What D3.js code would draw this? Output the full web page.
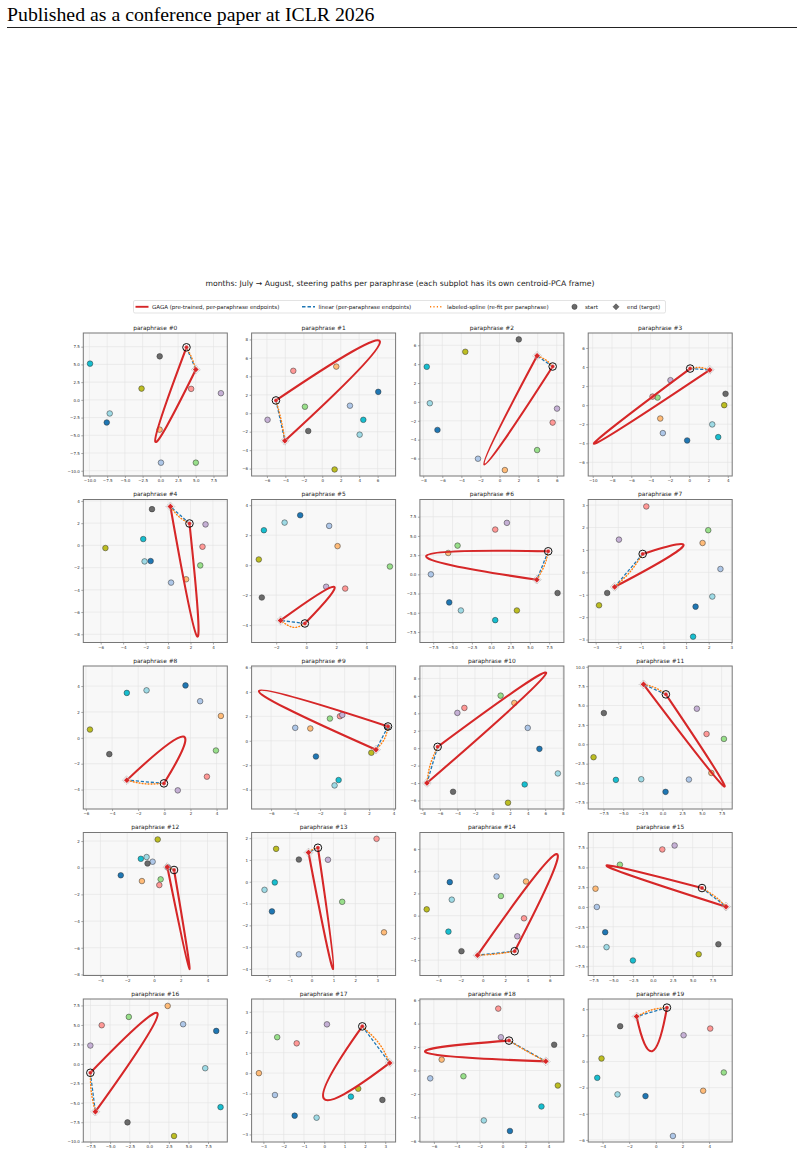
<!DOCTYPE html>
<html>
<head>
<meta charset="utf-8">
<script src="https://cdn.jsdelivr.net/npm/d3@7"></script>
<style>
  body { margin: 0; background: #fff; }
  svg { display: block; }
</style>
</head>
<body>
<div id="chart"></div>
<script>
// other months (one coloured dot each per subplot)
const months = ["January", "February", "March", "April", "May", "June",
                "September", "October", "November", "December"];
const monthColors = ["#1f77b4", "#aec7e8", "#ffbb78", "#98df8a", "#ff9896",
                     "#c5b0d5", "#6b6b6b", "#bcbd22", "#17becf", "#9edae5"];

const titles = d3.range(20).map(i => `paraphrase #${i}`);

// axis limits per subplot
const xDomains = [
  [-10.87, 9.45], [-7.66, 7.95], [-8.35, 6.75], [-10.47, 4.46],
  [-7.55, 5.28], [-3.64, 5.96], [-9.22, 9.4], [-3.33, 3.04],
  [-6.2, 4.82], [-7.59, 4.16], [-8.28, 8.13], [-9.45, 8.85],
  [-5.28, 5.48], [-2.74, 3.84], [-5.65, 7.27], [-8.15, 9.98],
  [-8.42, 9.96], [-3.58, 3.51], [-7.22, 5.35], [-5.08, 5.73]
];
const yDomains = [
  [-10.74, 9.43], [-6.8, 8.7], [-7.85, 7.3], [-7.43, 7.57],
  [-8.74, 4.13], [-5.16, 4.38], [-8.87, 9.74], [-3.13, 3.25],
  [-5.5, 5.55], [-5.58, 6.12], [-6.98, 9.43], [-8.35, 10.1],
  [-8.08, 2.64], [-4.3, 2.26], [-5.39, 7.49], [-8.66, 9.41],
  [-10.04, 8.33], [-3.37, 3.63], [-6.1, 6.1], [-6.16, 4.78]
];
const tickSteps = [2.5, 2, 2, 2, 2, 2, 2.5, 1, 2, 2,
                   2, 2.5, 2, 1, 2, 2.5, 2.5, 1, 2, 2];

// month positions, same order as months[]
const monthPoints = [
  [[-7.56,-3.19],[0.09,-8.86],[-0.1,-4.2],[5.01,-8.86],[4.35,1.55],[8.55,0.94],[-0.09,6.14],[-2.65,1.59],[-9.92,5.11],[-7.14,-1.92]],
  [[6.07,2.32],[3.0,0.82],[1.52,5.06],[-1.88,0.71],[-3.14,4.6],[-5.93,-0.71],[-1.52,-1.92],[1.34,-6.09],[4.45,-0.71],[4.05,-2.32]],
  [[-6.51,-2.97],[-2.26,-6.02],[0.56,-7.22],[3.94,-5.1],[5.57,-2.19],[6.03,-0.71],[2.02,6.62],[-3.59,5.31],[-7.63,3.72],[-7.31,-0.14]],
  [[-0.21,-3.7],[-2.73,-2.93],[-3.0,-1.4],[-3.28,0.8],[-3.8,0.9],[-1.94,2.62],[3.77,1.19],[3.63,0],[3.01,-3.35],[2.39,-2.02]],
  [[-1.55,-1.41],[0.27,-3.35],[1.61,-3.05],[2.87,-1.8],[3.07,-0.12],[3.34,1.89],[-1.43,3.26],[-5.58,-0.24],[-2.21,0.57],[-2.09,-1.44]],
  [[-0.4,3.33],[1.53,2.62],[2.09,1.27],[5.58,-0.09],[2.6,-1.56],[1.33,-1.44],[-2.96,-2.16],[-3.16,0.38],[-2.82,2.33],[-1.44,2.84]],
  [[-5.43,-3.65],[-7.8,0],[-5.56,2.78],[-4.35,3.74],[0.52,5.83],[2.03,6.7],[8.58,-2.43],[3.32,-4.7],[0.52,-5.96],[-3.92,-4.7]],
  [[1.42,-1.53],[2.52,0.15],[1.73,1.31],[1.98,1.88],[-0.76,2.94],[-1.97,1.46],[-2.49,-0.92],[-2.85,-1.47],[1.31,-2.87],[2.16,-1.08]],
  [[1.62,4.05],[2.74,2.83],[4.33,1.69],[3.95,-0.98],[3.26,-3.0],[1.03,-4.06],[-4.21,-1.26],[-5.69,0.64],[-2.87,3.47],[-1.36,3.67]],
  [[-2.34,-1.28],[-4.03,1.06],[-2.8,1.01],[-1.2,1.82],[-0.38,2.01],[-0.19,2.12],[3.5,1.1],[2.18,-0.98],[-0.49,-3.21],[-0.82,-3.65]],
  [[5.34,-0.08],[4.01,2.33],[2.48,5.19],[0.92,6.03],[-3.21,4.62],[-4.01,4.05],[-4.5,-5.0],[1.76,-6.26],[3.66,-4.16],[7.44,-2.9]],
  [[0.38,-6.14],[3.35,-4.55],[6.2,-3.7],[7.8,0.69],[5.59,1.33],[4.36,4.59],[-7.46,4.03],[-8.77,-1.67],[-5.93,-4.59],[-2.71,-4.51]],
  [[-2.48,-0.57],[-0.1,0.45],[-0.9,-1.0],[0.5,-0.87],[0.4,-1.3],[1.05,0.02],[-0.48,0.32],[0.28,2.12],[-0.98,0.67],[-0.55,0.8]],
  [[-1.81,-1.36],[-0.58,-3.33],[3.31,-2.32],[1.4,-0.92],[2.97,1.97],[0.75,1.01],[-0.58,1.02],[-1.62,1.51],[-1.68,-0.03],[-2.15,-0.37]],
  [[-2.97,3.02],[1.23,3.53],[3.87,3.08],[1.62,1.77],[3.69,-0.24],[3.09,-1.86],[-1.92,-3.2],[-5.04,0.57],[-3.09,-1.44],[-2.79,1.44]],
  [[-6.01,-3.19],[-7.06,0],[-7.23,2.31],[-4.16,5.34],[1.18,7.27],[2.73,7.77],[8.24,-4.71],[5.76,-5.97],[-2.52,-6.76],[-5.84,-5.08]],
  [[8.55,4.23],[4.32,5.09],[2.35,7.44],[-2.61,6.03],[-6.07,4.96],[-7.52,2.35],[-2.78,-7.52],[3.16,-9.27],[9.1,-5.56],[7.14,-0.56]],
  [[-1.46,-2.08],[-2.43,-1.07],[-3.22,0],[-2.32,1.76],[-1.36,1.46],[0.13,2.39],[2.86,-1.31],[1.67,-0.76],[1.31,-1.15],[-0.38,-2.18]],
  [[0.64,-5.16],[-6.32,-0.67],[-5.32,0.93],[-3.42,-0.49],[-0.38,5.28],[-0.15,2.84],[4.5,2.2],[4.82,-1.28],[3.39,-3.07],[-1.64,-4.26]],
  [[-0.78,-2.65],[1.28,-5.7],[3.55,-2.24],[5.1,-0.84],[4.08,2.52],[2.08,2.01],[-2.68,2.7],[-4.08,0.23],[-4.4,-1.25],[-2.88,-2.52]]
];

// July (start) and August (end) per paraphrase
const starts = [[3.69,7.41],[-5.02,1.39],[5.57,3.75],[0.1,3.84],[1.91,1.97],[-0.09,-3.89],[7.37,3.0],[-0.92,0.82],[-0.03,-3.52],[3.54,1.17],
                [-6.26,0.15],[0.42,6.44],[1.5,-0.17],[0.29,1.56],[2.85,-3.2],[6.18,2.39],[-7.52,-1.15],[1.87,2.29],[0.56,2.55],[0.83,4.12]];
const ends = [[5.01,4.27],[-4.05,-2.99],[3.94,4.88],[2.14,3.7],[0.21,3.5],[-1.71,-3.69],[5.9,-0.7],[-2.16,-0.65],[-2.87,-3.27],[2.56,-0.73],
              [-7.48,-4.0],[-2.42,7.73],[1.0,0.05],[-0.14,1.34],[-0.48,-3.56],[9.2,0.04],[-6.88,-6.15],[3.22,0.5],[3.77,0.78],[-1.45,3.44]];
// far point of the GAGA loop (curve midpoint)
const gagaTips = [[-0.71,-5.9],[6.25,7.77],[-1.6,-6.62],[-9.85,-4.05],[2.6,-8.2],[1.84,-1.44],[-8.4,2.39],[0.85,1.14],[1.44,0.1],[-6.99,4.08],
                  [6.1,8.59],[7.84,-5.45],[2.65,-7.6],[0.99,-4.0],[6.6,5.54],[-5.8,5.17],[1.07,6.41],[-0.02,-1.25],[-6.7,1.54],[-0.28,0.79]];
// middle point of the labeled spline
const splineMids = [[4.45,5.9],[-4.45,-0.75],[4.85,4.45],[1.1,3.95],[0.95,2.6],[-0.85,-4.15],[6.9,1.2],[-1.48,0.02],[-1.5,-3.55],[3.25,0.15],
                    [-7.1,-1.88],[-0.95,7.3],[1.25,-0.05],[0.08,1.5],[1.2,-3.45],[7.85,1.3],[-7.4,-3.62],[2.7,1.45],[2.2,1.6],[-0.3,3.95]];

const RED = "#d62728", BLUE = "#1f77b4", ORANGE = "#ff7f0e";
const FONT = "DejaVu Sans, sans-serif";

const svg = d3.select("#chart").append("svg")
  .attr("width", 804).attr("height", 1158);

// page header
svg.append("text")
  .attr("x", 7).attr("y", 21)
  .attr("font-family", "Liberation Serif, Times New Roman, serif")
  .attr("font-size", 19.8)
  .text("Published as a conference paper at ICLR 2026");
svg.append("line")
  .attr("x1", 7).attr("x2", 797).attr("y1", 27.5).attr("y2", 27.5)
  .attr("stroke", "#222").attr("stroke-width", 1);

// figure title
svg.append("text")
  .attr("x", 400).attr("y", 285.5)
  .attr("text-anchor", "middle")
  .attr("font-family", FONT).attr("font-size", 7.7)
  .attr("fill", "#222")
  .text("months: July \u2192 August, steering paths per paraphrase (each subplot has its own centroid-PCA frame)");

// legend
const leg = svg.append("g").attr("font-family", FONT).attr("font-size", 5.5).attr("fill", "#222");
leg.append("rect")
  .attr("x", 133.5).attr("y", 300.5).attr("width", 532).attr("height", 12.5)
  .attr("rx", 1.5).attr("fill", "#fff").attr("stroke", "#d0d0d0").attr("stroke-width", 0.6);
const ly = 306.8;
leg.append("line").attr("x1", 135.5).attr("x2", 148.5).attr("y1", ly).attr("y2", ly)
  .attr("stroke", RED).attr("stroke-width", 1.9);
leg.append("text").attr("x", 152).attr("y", ly + 2).text("GAGA (pre-trained, per-paraphrase endpoints)");
leg.append("line").attr("x1", 302).attr("x2", 315).attr("y1", ly).attr("y2", ly)
  .attr("stroke", BLUE).attr("stroke-width", 1.4).attr("stroke-dasharray", "3.5,2");
leg.append("text").attr("x", 318.5).attr("y", ly + 2).text("linear (per-paraphrase endpoints)");
leg.append("line").attr("x1", 430).attr("x2", 442).attr("y1", ly).attr("y2", ly)
  .attr("stroke", ORANGE).attr("stroke-width", 1.4).attr("stroke-dasharray", "1.2,2.2");
leg.append("text").attr("x", 447).attr("y", ly + 2).text("labeled-spline (re-fit per paraphrase)");
leg.append("circle").attr("cx", 574.5).attr("cy", ly).attr("r", 2.6)
  .attr("fill", "#6b6b6b").attr("stroke", "#333").attr("stroke-width", 0.5);
leg.append("text").attr("x", 585).attr("y", ly + 2).text("start");
leg.append("path").attr("transform", `translate(616,${ly})`)
  .attr("d", "M0,-3L3,0L0,3L-3,0Z")
  .attr("fill", "#6b6b6b").attr("stroke", "#333").attr("stroke-width", 0.5);
leg.append("text").attr("x", 627).attr("y", ly + 2).text("end (target)");

// subplots
const W = 144, H = 143;
const colX = c => 83.3 + c * 168.3;
const rowY = r => 333 + r * 166.5;

titles.forEach((title, i) => {
  const g = svg.append("g")
    .attr("transform", `translate(${colX(i % 4)},${rowY(Math.floor(i / 4))})`);
  const x = d3.scaleLinear().domain(xDomains[i]).range([0, W]);
  const y = d3.scaleLinear().domain(yDomains[i]).range([H, 0]);
  const step = tickSteps[i];
  const ticksFor = dom => d3.range(Math.ceil(dom[0] / step - 1e-9) * step, dom[1] + 1e-9, step);
  const fmt = step % 1 === 0 ? d3.format("d") : d3.format(".1f");

  g.append("rect").attr("width", W).attr("height", H).attr("fill", "#f8f8f8");

  // grid
  g.append("g").selectAll("line").data(ticksFor(xDomains[i])).join("line")
    .attr("x1", d => x(d)).attr("x2", d => x(d)).attr("y1", 0).attr("y2", H)
    .attr("stroke", "#e2e2e2").attr("stroke-width", 0.6);
  g.append("g").selectAll("line").data(ticksFor(yDomains[i])).join("line")
    .attr("y1", d => y(d)).attr("y2", d => y(d)).attr("x1", 0).attr("x2", W)
    .attr("stroke", "#e2e2e2").attr("stroke-width", 0.6);

  // axes
  const xAxis = g.append("g").attr("transform", `translate(0,${H})`)
    .call(d3.axisBottom(x).tickValues(ticksFor(xDomains[i])).tickFormat(fmt).tickSize(2).tickPadding(1.5));
  const yAxis = g.append("g")
    .call(d3.axisLeft(y).tickValues(ticksFor(yDomains[i])).tickFormat(fmt).tickSize(2).tickPadding(1.5));
  [xAxis, yAxis].forEach(a => {
    a.select(".domain").remove();
    a.selectAll("line").attr("stroke", "#555").attr("stroke-width", 0.5);
    a.selectAll("text").attr("font-family", FONT).attr("font-size", 4).attr("fill", "#333");
  });

  const clipId = `clip${i}`;
  g.append("clipPath").attr("id", clipId).append("rect").attr("width", W).attr("height", H);
  const plot = g.append("g").attr("clip-path", `url(#${clipId})`);

  // month dots
  plot.append("g").selectAll("circle").data(monthPoints[i]).join("circle")
    .attr("cx", d => x(d[0])).attr("cy", d => y(d[1])).attr("r", 2.8)
    .attr("fill", (d, k) => monthColors[k])
    .attr("stroke", "#333").attr("stroke-width", 0.5);

  const S = starts[i], E = ends[i], T = gagaTips[i];
  // quadratic control point so that the curve passes through the tip at t = 0.5
  const C = [2 * T[0] - (S[0] + E[0]) / 2, 2 * T[1] - (S[1] + E[1]) / 2];
  const p = d3.path();
  p.moveTo(x(S[0]), y(S[1]));
  p.quadraticCurveTo(x(C[0]), y(C[1]), x(E[0]), y(E[1]));
  plot.append("path").attr("d", p.toString())
    .attr("fill", "none").attr("stroke", RED).attr("stroke-width", 2.1)
    .attr("stroke-linecap", "round");

  // linear
  plot.append("line")
    .attr("x1", x(S[0])).attr("y1", y(S[1])).attr("x2", x(E[0])).attr("y2", y(E[1]))
    .attr("stroke", BLUE).attr("stroke-width", 1.3).attr("stroke-dasharray", "3.2,1.8");

  // labeled spline
  const spline = d3.line().x(d => x(d[0])).y(d => y(d[1])).curve(d3.curveNatural);
  plot.append("path").attr("d", spline([S, splineMids[i], E]))
    .attr("fill", "none").attr("stroke", ORANGE).attr("stroke-width", 1.4)
    .attr("stroke-dasharray", "0.8,2.2").attr("stroke-linecap", "round");

  // start ring + end diamond
  plot.append("circle").attr("cx", x(S[0])).attr("cy", y(S[1])).attr("r", 3.8)
    .attr("fill", "none").attr("stroke", "#111").attr("stroke-width", 1);
  plot.append("path").attr("transform", `translate(${x(E[0])},${y(E[1])})`)
    .attr("d", "M0,-4.4L4.4,0L0,4.4L-4.4,0Z")
    .attr("fill", "none").attr("stroke", "#999").attr("stroke-width", 0.7)
    .attr("stroke-dasharray", "1,0.8");
  plot.append("circle").attr("cx", x(S[0])).attr("cy", y(S[1])).attr("r", 2)
    .attr("fill", RED).attr("stroke", "#fff").attr("stroke-width", 0.3);
  plot.append("path").attr("transform", `translate(${x(E[0])},${y(E[1])})`)
    .attr("d", "M0,-3L3,0L0,3L-3,0Z")
    .attr("fill", RED).attr("stroke", "#fff").attr("stroke-width", 0.3);

  // frame
  g.append("rect").attr("width", W).attr("height", H)
    .attr("fill", "none").attr("stroke", "#777").attr("stroke-width", 1);

  g.append("text")
    .attr("x", W / 2).attr("y", -3.2)
    .attr("text-anchor", "middle")
    .attr("font-family", FONT).attr("font-size", 5.9).attr("fill", "#222")
    .text(title);
});
</script>
</body>
</html>
